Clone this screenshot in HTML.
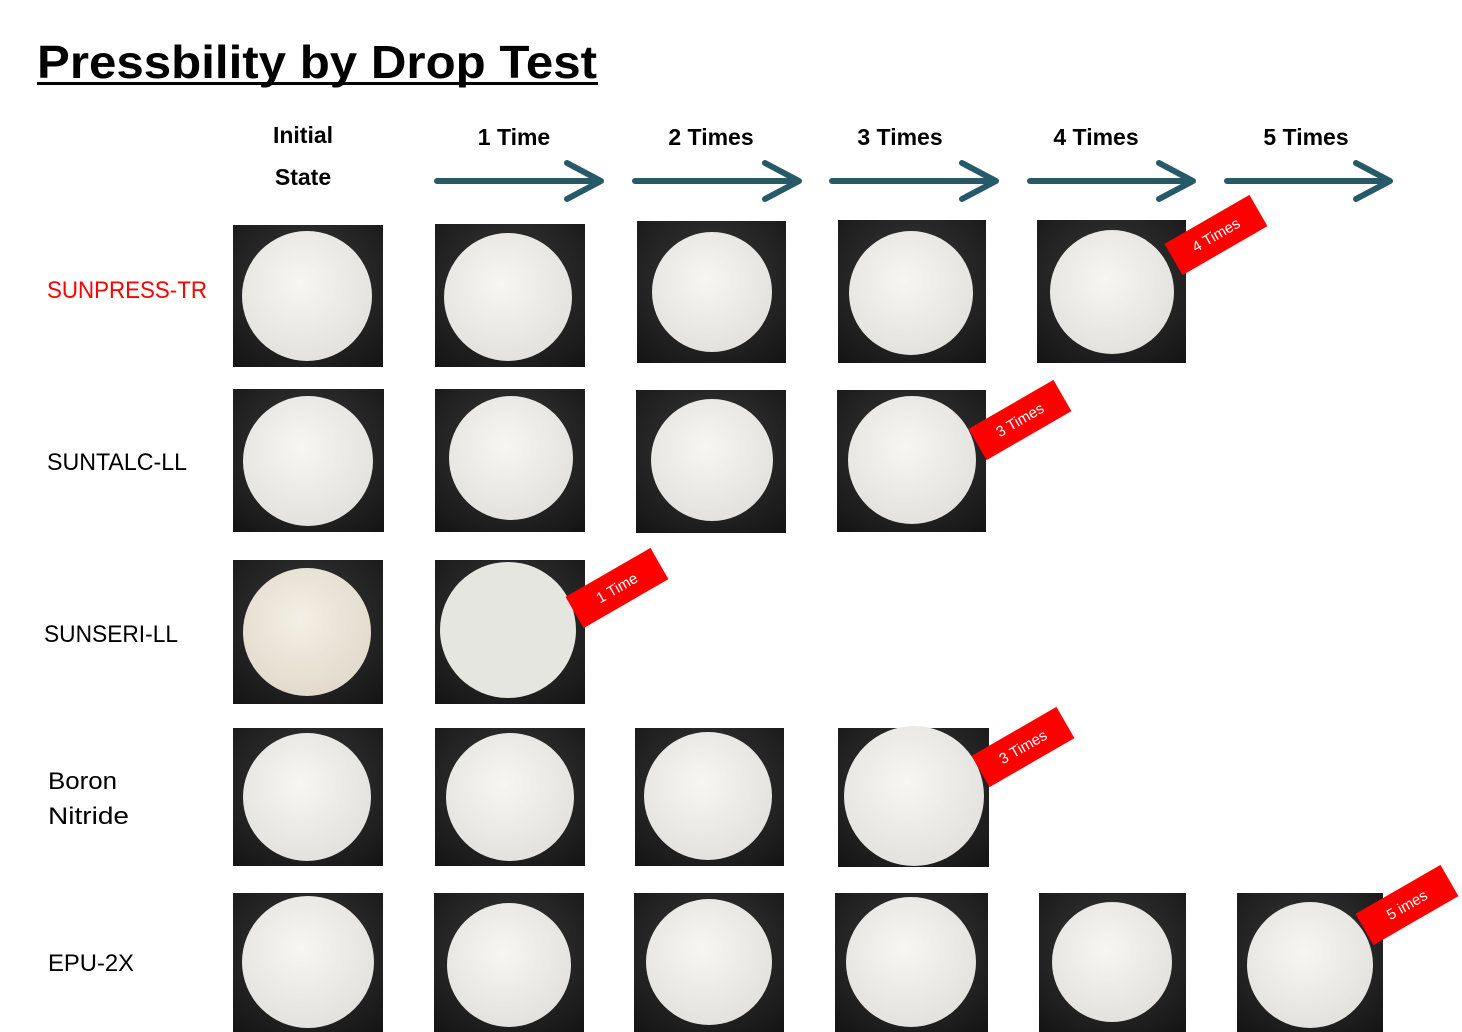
<!DOCTYPE html>
<html><head><meta charset="utf-8"><style>
html,body{margin:0;padding:0;background:#fff;}
svg{display:block;font-family:"Liberation Sans",sans-serif;}
</style></head><body>
<svg width="1462" height="1032" viewBox="0 0 1462 1032" xmlns="http://www.w3.org/2000/svg">
<defs>
<radialGradient id="bg" cx="50%" cy="40%" r="75%"><stop offset="0" stop-color="#3a3a3a"/><stop offset="1" stop-color="#151515"/></radialGradient>
<radialGradient id="disc" cx="45%" cy="40%" r="60%"><stop offset="0" stop-color="#f7f6f3"/><stop offset="1" stop-color="#e4e2de"/></radialGradient>
<radialGradient id="disc2" cx="45%" cy="40%" r="60%"><stop offset="0" stop-color="#f4efe4"/><stop offset="1" stop-color="#e2dbcd"/></radialGradient>
</defs>
<text x="37" y="78" font-size="46" font-weight="bold" textLength="560" lengthAdjust="spacingAndGlyphs">Pressbility by Drop Test</text>
<rect x="37" y="82" width="561" height="3" fill="#000"/>

<g font-size="23" font-weight="bold" text-anchor="middle">
<text x="303" y="143">Initial</text><text x="303" y="185">State</text>
<text x="514" y="145">1 Time</text><text x="711" y="145">2 Times</text>
<text x="900" y="145">3 Times</text><text x="1096" y="145">4 Times</text>
<text x="1306" y="145">5 Times</text>
</g>
<g stroke="#265a69" stroke-width="6" fill="none" stroke-linecap="round" stroke-linejoin="round">
<path d="M437 181H600M567 163L601 181L567 199"/>
<path d="M635 181H798M765 163L799 181L765 199"/>
<path d="M832 181H995M962 163L996 181L962 199"/>
<path d="M1030 181H1192M1159 163L1193 181L1159 199"/>
<path d="M1227 181H1389M1356 163L1390 181L1356 199"/>
</g>

<g font-size="24" lengthAdjust="spacingAndGlyphs">
<text x="47" y="298" fill="#ff0000" textLength="160" lengthAdjust="spacingAndGlyphs">SUNPRESS-TR</text>
<text x="47" y="470" textLength="140" lengthAdjust="spacingAndGlyphs">SUNTALC-LL</text>
<text x="44" y="642" textLength="134" lengthAdjust="spacingAndGlyphs">SUNSERI-LL</text>
<text x="48" y="789" textLength="69" lengthAdjust="spacingAndGlyphs">Boron</text>
<text x="48" y="824" textLength="81" lengthAdjust="spacingAndGlyphs">Nitride</text>
<text x="48" y="971" textLength="86" lengthAdjust="spacingAndGlyphs">EPU-2X</text>
</g>

<g>
<rect x="233" y="225" width="150" height="142" fill="url(#bg)"/><circle cx="307" cy="296" r="65" fill="url(#disc)"/>
<rect x="435" y="224" width="150" height="143" fill="url(#bg)"/><circle cx="508" cy="297" r="64" fill="url(#disc)"/>
<rect x="637" y="221" width="149" height="142" fill="url(#bg)"/><circle cx="712" cy="292" r="60" fill="url(#disc)"/>
<rect x="838" y="220" width="148" height="143" fill="url(#bg)"/><circle cx="911" cy="293" r="62" fill="url(#disc)"/>
<rect x="1037" y="220" width="149" height="143" fill="url(#bg)"/><circle cx="1112" cy="292" r="62" fill="url(#disc)"/>
<rect x="233" y="389" width="151" height="143" fill="url(#bg)"/><circle cx="308" cy="461" r="65" fill="url(#disc)"/>
<rect x="435" y="389" width="150" height="143" fill="url(#bg)"/><circle cx="511" cy="458" r="62" fill="url(#disc)"/>
<rect x="636" y="390" width="150" height="143" fill="url(#bg)"/><circle cx="712" cy="460" r="61" fill="url(#disc)"/>
<rect x="837" y="390" width="149" height="142" fill="url(#bg)"/><circle cx="912" cy="460" r="64" fill="url(#disc)"/>
<rect x="233" y="560" width="150" height="144" fill="url(#bg)"/><circle cx="307" cy="632" r="64" fill="url(#disc2)"/>
<rect x="435" y="560" width="150" height="144" fill="url(#bg)"/><circle cx="508" cy="630" r="68" fill="#e6e6e0"/>
<rect x="233" y="728" width="150" height="138" fill="url(#bg)"/><circle cx="307" cy="797" r="64" fill="url(#disc)"/>
<rect x="435" y="728" width="150" height="138" fill="url(#bg)"/><circle cx="510" cy="797" r="64" fill="url(#disc)"/>
<rect x="635" y="728" width="149" height="138" fill="url(#bg)"/><circle cx="708" cy="796" r="64" fill="url(#disc)"/>
<rect x="838" y="728" width="151" height="139" fill="url(#bg)"/><circle cx="914" cy="796" r="70" fill="url(#disc)"/>
<rect x="233" y="893" width="150" height="139" fill="url(#bg)"/><circle cx="308" cy="962" r="66" fill="url(#disc)"/>
<rect x="434" y="893" width="150" height="139" fill="url(#bg)"/><circle cx="509" cy="965" r="62" fill="url(#disc)"/>
<rect x="634" y="893" width="150" height="139" fill="url(#bg)"/><circle cx="709" cy="962" r="63" fill="url(#disc)"/>
<rect x="835" y="893" width="153" height="139" fill="url(#bg)"/><circle cx="911" cy="962" r="65" fill="url(#disc)"/>
<rect x="1039" y="893" width="147" height="139" fill="url(#bg)"/><circle cx="1112" cy="962" r="60" fill="url(#disc)"/>
<rect x="1237" y="893" width="146" height="139" fill="url(#bg)"/><circle cx="1310" cy="965" r="63" fill="url(#disc)"/>
</g>

<g font-size="15" fill="#fff" text-anchor="middle">
<g transform="translate(1216,235) rotate(-30)"><rect x="-49" y="-18" width="98" height="36" fill="#ff0000"/><text y="5">4 Times</text></g>
<g transform="translate(1020,420) rotate(-30)"><rect x="-49" y="-18" width="98" height="36" fill="#ff0000"/><text y="5">3 Times</text></g>
<g transform="translate(617,588) rotate(-30)"><rect x="-49" y="-18" width="98" height="36" fill="#ff0000"/><text y="5">1 Time</text></g>
<g transform="translate(1023,747) rotate(-30)"><rect x="-49" y="-18" width="98" height="36" fill="#ff0000"/><text y="5">3 Times</text></g>
<g transform="translate(1407,905) rotate(-30)"><rect x="-49" y="-18" width="98" height="36" fill="#ff0000"/><text y="5">5 imes</text></g>
</g>
</svg>
</body></html>
